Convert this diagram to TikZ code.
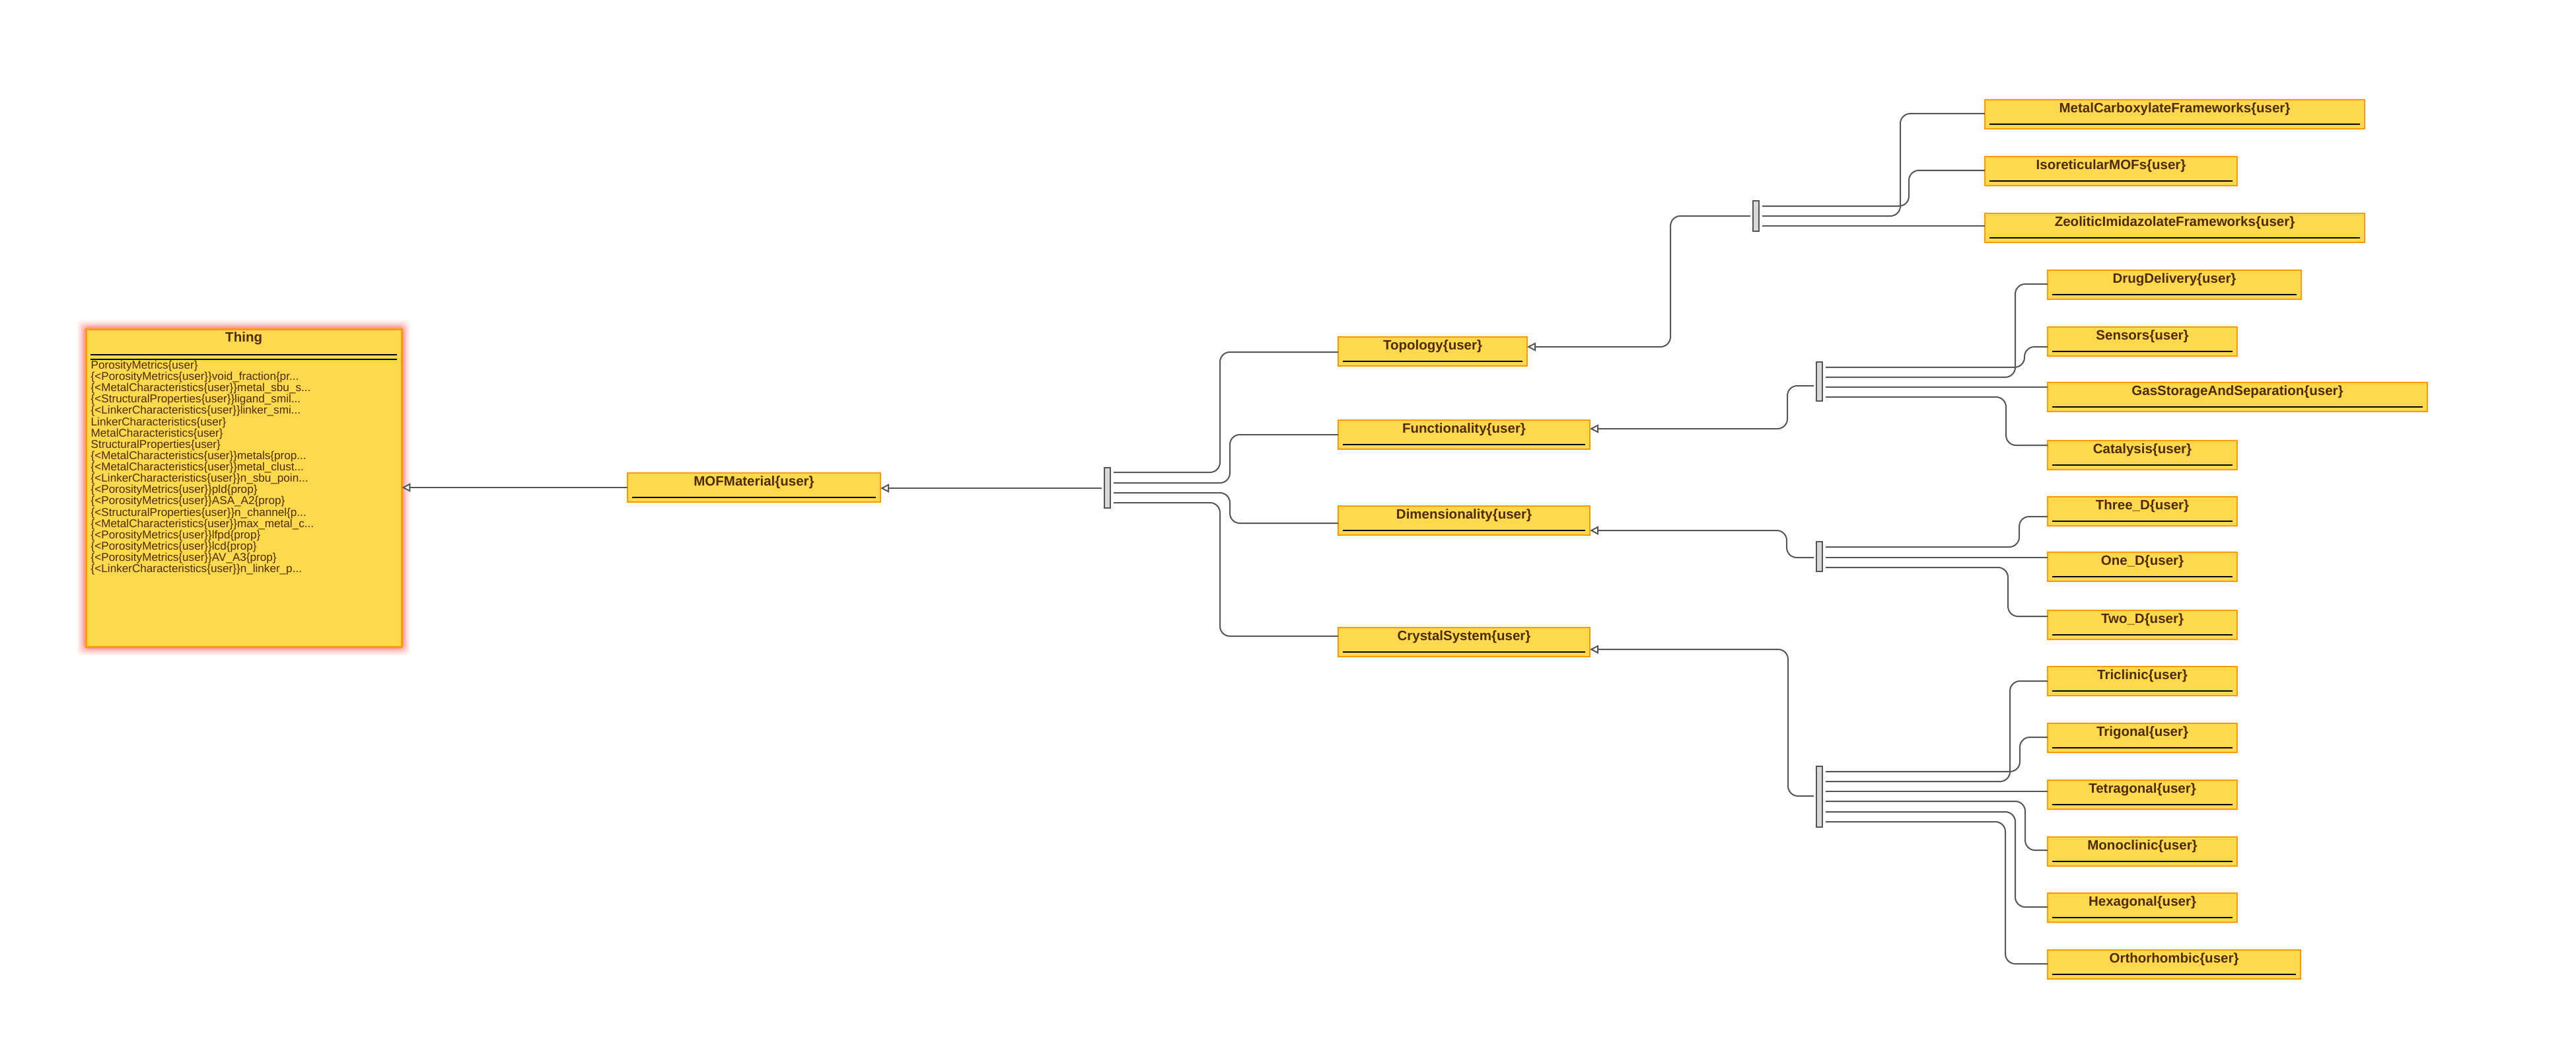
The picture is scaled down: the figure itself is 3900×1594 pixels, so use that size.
\documentclass[tikz,border=0pt]{standalone}
\usepackage{fontspec}
\setmainfont{Liberation Sans}
\usetikzlibrary{arrows.meta}
\definecolor{clsfill}{HTML}{FFD94D}
\definecolor{clsline}{HTML}{FF9900}
\definecolor{clstext}{HTML}{4D2A00}
\definecolor{connc}{HTML}{555555}
\definecolor{barfill}{HTML}{D9D9D9}
\newcommand\tdots{...}
\newcommand\clsbox[5]{%
  \node[clsbox, minimum width=#4*0.01cm] (#1) at (#2,#3) {};
  \node[clstitle] (#1-t) at ([yshift=-0.14cm]#1.north) {#5};
  \draw[uline] ([xshift=0.07cm,yshift=0.07cm]#1.south west) -- ([xshift=-0.07cm,yshift=0.07cm]#1.south east);
}
\begin{document}
\begin{tikzpicture}[x=0.01cm,y=-0.01cm,
  clsbox/.style={draw=clsline, fill=clsfill, line width=0.02cm, minimum height=0.44cm, inner sep=0pt, outer sep=0pt, anchor=north west},
  clstitle/.style={text=clstext, font=\fontsize{5.83pt}{7pt}\selectfont\bfseries, inner sep=0pt},
  item/.style={text=clstext, font=\fontsize{4.87pt}{5pt}\selectfont, inner sep=0pt, anchor=west},
  uline/.style={black, line width=0.025cm},
  conn/.style={draw=connc, line width=0.02cm, rounded corners=0.15cm},
  inh/.style={conn, arrows={Triangle[fill=white, length=0.13cm, width=0.13cm]-}},
  forkbar/.style={draw=connc, fill=barfill, line width=0.02cm, inner sep=0pt, outer sep=0pt, anchor=north west, minimum width=0.09cm},
]
\useasboundingbox (0,0) rectangle (3900,1594);

% glow of Thing
\foreach \d/\o in {13/0.06,10/0.08,7/0.12,4/0.18}
  \fill[red, opacity=\o, rounded corners=0.08cm] (130-\d,498-\d) rectangle (608+\d,979+\d);
\node[clsbox, minimum width=4.78cm, minimum height=4.81cm, line width=0.03cm] (thing) at (130,498) {};
\node[clstitle] (thing-t) at ([yshift=-0.14cm]thing.north) {Thing};
\draw[uline] ([xshift=0.07cm,yshift=-0.39cm]thing.north west) -- ([xshift=-0.07cm,yshift=-0.39cm]thing.north east);
\draw[uline] ([xshift=0.07cm,yshift=-0.46cm]thing.north west) -- ([xshift=-0.07cm,yshift=-0.46cm]thing.north east);
\foreach \t [count=\i from 0] in {%
  PorosityMetrics\{user\},
  \{<PorosityMetrics\{user\}\}void\_fraction\{pr\tdots,
  \{<MetalCharacteristics\{user\}\}metal\_sbu\_s\tdots,
  \{<StructuralProperties\{user\}\}ligand\_smil\tdots,
  \{<LinkerCharacteristics\{user\}\}linker\_smi\tdots,
  LinkerCharacteristics\{user\},
  MetalCharacteristics\{user\},
  StructuralProperties\{user\},
  \{<MetalCharacteristics\{user\}\}metals\{prop\tdots,
  \{<MetalCharacteristics\{user\}\}metal\_clust\tdots,
  \{<LinkerCharacteristics\{user\}\}n\_sbu\_poin\tdots,
  \{<PorosityMetrics\{user\}\}pld\{prop\},
  \{<PorosityMetrics\{user\}\}ASA\_A2\{prop\},
  \{<StructuralProperties\{user\}\}n\_channel\{p\tdots,
  \{<MetalCharacteristics\{user\}\}max\_metal\_c\tdots,
  \{<PorosityMetrics\{user\}\}lfpd\{prop\},
  \{<PorosityMetrics\{user\}\}lcd\{prop\},
  \{<PorosityMetrics\{user\}\}AV\_A3\{prop\},
  \{<LinkerCharacteristics\{user\}\}n\_linker\_p\tdots}
  \node[item] (th\i) at (137,554+17.13*\i) {\t};

% class boxes
\clsbox{mof}{950}{716}{383}{MOFMaterial\{user\}}
\clsbox{topo}{2026}{510}{286}{Topology\{user\}}
\clsbox{func}{2026}{636}{381}{Functionality\{user\}}
\clsbox{dim}{2026}{766}{381}{Dimensionality\{user\}}
\clsbox{cry}{2026}{950}{381}{CrystalSystem\{user\}}

\clsbox{mcf}{3005}{151}{575}{MetalCarboxylateFrameworks\{user\}}
\clsbox{iso}{3005}{237}{382}{IsoreticularMOFs\{user\}}
\clsbox{zif}{3005}{323}{575}{ZeoliticImidazolateFrameworks\{user\}}

\clsbox{drug}{3100}{409}{384}{DrugDelivery\{user\}}
\clsbox{sens}{3100}{495}{287}{Sensors\{user\}}
\clsbox{gas}{3100}{579}{575}{GasStorageAndSeparation\{user\}}
\clsbox{cat}{3100}{667}{287}{Catalysis\{user\}}

\clsbox{three}{3100}{752}{287}{Three\_D\{user\}}
\clsbox{one}{3100}{836}{287}{One\_D\{user\}}
\clsbox{two}{3100}{924}{287}{Two\_D\{user\}}

\clsbox{tric}{3100}{1009}{287}{Triclinic\{user\}}
\clsbox{trig}{3100}{1095}{287}{Trigonal\{user\}}
\clsbox{tetr}{3100}{1181}{287}{Tetragonal\{user\}}
\clsbox{mono}{3100}{1267}{287}{Monoclinic\{user\}}
\clsbox{hexa}{3100}{1352}{287}{Hexagonal\{user\}}
\clsbox{orth}{3100}{1438}{383}{Orthorhombic\{user\}}

% fork bars
\node[forkbar, minimum height=0.61cm] (bar0) at (1672,708) {};
\node[forkbar, minimum height=0.46cm] (bar1) at (2654,304) {};
\node[forkbar, minimum height=0.59cm] (bar2) at (2750,548) {};
\node[forkbar, minimum height=0.45cm] (bar3) at (2750,820) {};
\node[forkbar, minimum height=0.92cm] (bar4) at (2750,1160) {};

% MOFMaterial -> Thing
\draw[inh] (thing.east |- 0,738) -- (mof.west |- 0,738);
% bar0 -> MOFMaterial
\draw[inh, shorten >=0.04cm] (mof.east |- 0,739) -- (bar0.west |- 0,739);
\draw[conn, shorten <=0.05cm] (bar0.east |- 0,715) -- (1847,715) -- (1847,533) -- (topo.west |- 0,533);
\draw[conn, shorten <=0.05cm] (bar0.east |- 0,731) -- (1862,731) -- (1862,658) -- (func.west |- 0,658);
\draw[conn, shorten <=0.05cm] (bar0.east |- 0,746) -- (1862,746) -- (1862,792) -- (dim.west |- 0,792);
\draw[conn, shorten <=0.05cm] (bar0.east |- 0,761) -- (1847,761) -- (1847,963) -- (cry.west |- 0,963);

% Topology fork
\draw[inh, shorten >=0.04cm] (topo.east |- 0,525) -- (2529,525) -- (2529,327) -- (bar1.west |- 0,327);
\draw[conn, shorten <=0.05cm] (bar1.east |- 0,312) -- (2890,312) -- (2890,258) -- (iso.west |- 0,258);
\draw[conn, shorten <=0.05cm] (bar1.east |- 0,327) -- (2877,327) -- (2877,172) -- (mcf.west |- 0,172);
\draw[conn, shorten <=0.05cm] (bar1.east |- 0,342) -- (zif.west |- 0,342);

% Functionality fork
\draw[inh, shorten >=0.04cm] (func.east |- 0,649) -- (2706,649) -- (2706,584) -- (bar2.west |- 0,584);
\draw[conn, shorten <=0.05cm] (bar2.east |- 0,556) -- (3065,556) -- (3065,525) -- (sens.west |- 0,525);
\draw[conn, shorten <=0.05cm] (bar2.east |- 0,571) -- (3051,571) -- (3051,430) -- (drug.west |- 0,430);
\draw[conn, shorten <=0.05cm] (bar2.east |- 0,586) -- (gas.west |- 0,586);
\draw[conn, shorten <=0.05cm] (bar2.east |- 0,601) -- (3037,601) -- (3037,674) -- (cat.west |- 0,674);

% Dimensionality fork
\draw[inh, shorten >=0.04cm] (dim.east |- 0,803) -- (2705,803) -- (2705,844) -- (bar3.west |- 0,844);
\draw[conn, shorten <=0.05cm] (bar3.east |- 0,828) -- (3057,828) -- (3057,782) -- (three.west |- 0,782);
\draw[conn, shorten <=0.05cm] (bar3.east |- 0,844) -- (one.west |- 0,844);
\draw[conn, shorten <=0.05cm] (bar3.east |- 0,859) -- (3040,859) -- (3040,933) -- (two.west |- 0,933);

% CrystalSystem fork
\draw[inh, shorten >=0.04cm] (cry.east |- 0,983) -- (2707,983) -- (2707,1205) -- (bar4.west |- 0,1205);
\draw[conn, shorten <=0.05cm] (bar4.east |- 0,1168) -- (3058,1168) -- (3058,1116) -- (trig.west |- 0,1116);
\draw[conn, shorten <=0.05cm] (bar4.east |- 0,1183) -- (3043,1183) -- (3043,1031) -- (tric.west |- 0,1031);
\draw[conn, shorten <=0.05cm] (bar4.east |- 0,1198) -- (tetr.west |- 0,1198);
\draw[conn, shorten <=0.05cm] (bar4.east |- 0,1213) -- (3066,1213) -- (3066,1287) -- (mono.west |- 0,1287);
\draw[conn, shorten <=0.05cm] (bar4.east |- 0,1229) -- (3051,1229) -- (3051,1373) -- (hexa.west |- 0,1373);
\draw[conn, shorten <=0.05cm] (bar4.east |- 0,1244) -- (3036,1244) -- (3036,1459) -- (orth.west |- 0,1459);
\end{tikzpicture}
\end{document}
